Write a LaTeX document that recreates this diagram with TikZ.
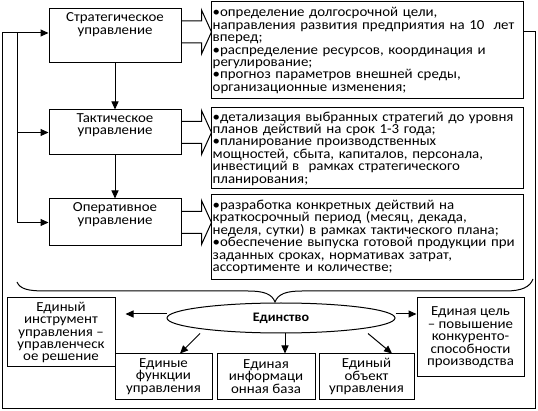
\documentclass[tikz,border=0pt]{standalone}
\usepackage{fontspec}
\setmainfont{Carlito}[FakeStretch=1.08]
\usetikzlibrary{shapes.geometric,arrows.meta,calc}
\newcommand{\blockarr}[2]{%
  \draw[barrow] ($(#1.east)+(0,#2)$) ++(0,-11) -- ++(20,0) -- ++(0,-11) -- ++(10,22) -- ++(-10,22) -- ++(0,-11) -- ++(-20,0);}
\begin{document}
\begin{tikzpicture}[x=1pt,y=-1pt,
  every node/.style={font=\fontsize{13.8}{12.4}\selectfont},
  box/.style={draw, line width=1pt, inner sep=0pt},
  txt/.style={inner sep=0pt, align=center},
  dtxt/.style={inner sep=0pt, align=left, text width=#1},
  ln/.style={line width=1pt},
  arr/.style={line width=1pt, -{Triangle[length=8pt,width=7pt]}},
  barrow/.style={line width=1pt, line join=miter},
]
\useasboundingbox (0,0) rectangle (538,411);

% left level boxes
\node[box, minimum width=132pt, minimum height=54pt] (strat) at (115,36) {};
\node[txt, anchor=north] (stratT) at ($(strat.north)+(0,4)$) {Стратегическое\\управление};
\node[box, minimum width=132pt, minimum height=45pt] (takt) at (115,132.5) {};
\node[txt, anchor=north] (taktT) at ($(takt.north)+(0,4)$) {Тактическое\\управление};
\node[box, minimum width=132pt, minimum height=47pt] (oper) at (115,222.5) {};
\node[txt, anchor=north] (operT) at ($(oper.north)+(0,4)$) {Оперативное\\управление};

% description boxes
\node[box, minimum width=312pt, minimum height=97pt] (d1) at (367,50.5) {};
\node[dtxt=340pt, anchor=west] (d1T) at ($(d1.west)+(2,0)$) {%
•определение долгосрочной цели,\\
направления развития предприятия на 10\ \ лет\\
вперед;\\
•распределение ресурсов, координация и\\
регулирование;\\
•прогноз параметров внешней среды,\\
организационные изменения;};
\node[box, minimum width=312pt, minimum height=81pt] (d2) at (367,148.5) {};
\node[dtxt=340pt, anchor=west] (d2T) at ($(d2.west)+(2,0)$) {%
•детализация выбранных стратегий до уровня\\
планов действий на срок 1-3 года;\\
•планирование производственных\\
мощностей, сбыта, капиталов, персонала,\\
инвестиций в\ \ рамках стратегического\\
планирования;};
\node[box, minimum width=312pt, minimum height=85pt] (d3) at (367,237) {};
\node[dtxt=340pt, anchor=west] (d3T) at ($(d3.west)+(2,0)$) {%
•разработка конкретных действий на\\
краткосрочный период (месяц, декада,\\
неделя, сутки) в рамках тактического плана;\\
•обеспечение выпуска готовой продукции при\\
заданных сроках, нормативах затрат,\\
ассортименте и количестве;};

% block arrows
\blockarr{strat}{-4}
\blockarr{takt}{0}
\blockarr{oper}{0}

% vertical arrows
\draw[arr] (strat) -- (takt);
\draw[arr] (takt) -- (oper);

% feedback frame
\coordinate (fr) at (535,408);
\coordinate (fl) at (2,408);
\coordinate (il) at (17,33);
\draw[arr] ([yshift=18.5pt]d1.east) -| (fr) -- (fl) |- ([yshift=3pt]strat.west);
\draw[arr] (il) |- (takt.west);
\draw[arr] (il) |- (oper.west);

% brace
\draw[ln] (17,282) .. controls (20,289) and (28,291) .. (45,291) -- (248,291)
  .. controls (264,291) and (272,294) .. (275,302)
  .. controls (278,294) and (286,291) .. (302,291) -- (505,291)
  .. controls (522,291) and (530,287) .. (533,279);

% unity ellipse
\node[draw, ellipse, line width=1pt, minimum width=228pt, minimum height=30pt, inner sep=0pt,
  font=\bfseries\fontsize{13}{14}\selectfont] (ell) at (281,318) {Единство};

% bottom boxes
\node[box, txt, minimum width=108pt, minimum height=69pt] (b1) at (61,332.5) {Единый\\инструмент\\управления –\\управленческ\\ое решение};
\node[box, txt, minimum width=97pt, minimum height=45pt] (b2) at (163.5,376.5) {Единые\\функции\\управления};
\node[box, txt, minimum width=98pt, minimum height=45pt] (b3) at (266,376.5) {Единая\\информаци\\онная база};
\node[box, txt, minimum width=95pt, minimum height=45pt] (b4) at (366.5,376.5) {Единый\\объект\\управления};
\node[box, txt, minimum width=107pt, minimum height=79pt] (b5) at (470.5,337.5) {Единая цель\\– повышение\\конкуренто-\\способности\\производства};

% arrows from ellipse
\draw[arr, shorten >=10pt] ([yshift=4pt]ell.west) -- ([yshift=4pt]ell.west -| b1.east);
\draw[arr] ([yshift=4pt]ell.east) -- ([yshift=4pt]ell.east -| b5.west);
\draw[arr] ($(ell.south)+(-81,0)$) -- ($(b2.north)+(16.5,0)$);
\draw[arr] ($(ell.south)+(4,0)$) -- ($(b3.north)+(19,0)$);
\draw[arr] ($(ell.south)+(87,0)$) -- ($(b4.north)+(25.5,0)$);
\end{tikzpicture}
\end{document}
